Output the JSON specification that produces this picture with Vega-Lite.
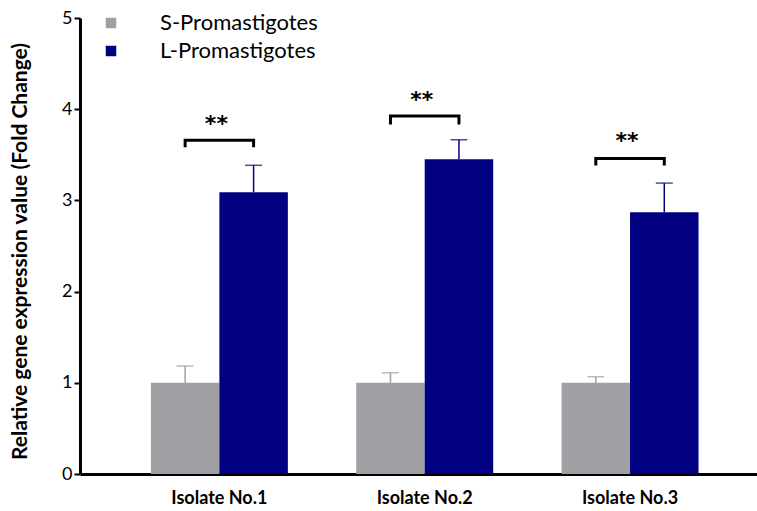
{
  "$schema": "https://vega.github.io/schema/vega-lite/v6.json",
  "width": 677,
  "height": 456,
  "autosize": {"type": "none"},
  "padding": {"left": 80, "top": 18, "right": 0, "bottom": 37},
  "background": "white",
  "config": {"view": {"stroke": null}, "font": "Lato"},
  "datasets": {
    "bars": [
      {"iso": "Isolate No.1", "grp": "S-Promastigotes", "value": 1.0, "err": 1.184},
      {"iso": "Isolate No.1", "grp": "L-Promastigotes", "value": 3.09, "err": 3.385},
      {"iso": "Isolate No.2", "grp": "S-Promastigotes", "value": 1.0, "err": 1.11},
      {"iso": "Isolate No.2", "grp": "L-Promastigotes", "value": 3.45, "err": 3.665},
      {"iso": "Isolate No.3", "grp": "S-Promastigotes", "value": 1.0, "err": 1.067},
      {"iso": "Isolate No.3", "grp": "L-Promastigotes", "value": 2.87, "err": 3.19}
    ],
    "brackets": [
      {"iso": "Isolate No.1", "grp": "S-Promastigotes", "y": 3.6, "ord": 1},
      {"iso": "Isolate No.1", "grp": "S-Promastigotes", "y": 3.66, "ord": 2},
      {"iso": "Isolate No.1", "grp": "L-Promastigotes", "y": 3.66, "ord": 3},
      {"iso": "Isolate No.1", "grp": "L-Promastigotes", "y": 3.6, "ord": 4},
      {"iso": "Isolate No.2", "grp": "S-Promastigotes", "y": 3.85, "ord": 1},
      {"iso": "Isolate No.2", "grp": "S-Promastigotes", "y": 3.925, "ord": 2},
      {"iso": "Isolate No.2", "grp": "L-Promastigotes", "y": 3.925, "ord": 3},
      {"iso": "Isolate No.2", "grp": "L-Promastigotes", "y": 3.85, "ord": 4},
      {"iso": "Isolate No.3", "grp": "S-Promastigotes", "y": 3.4, "ord": 1},
      {"iso": "Isolate No.3", "grp": "S-Promastigotes", "y": 3.46, "ord": 2},
      {"iso": "Isolate No.3", "grp": "L-Promastigotes", "y": 3.46, "ord": 3},
      {"iso": "Isolate No.3", "grp": "L-Promastigotes", "y": 3.4, "ord": 4}
    ],
    "stars": [
      {"iso": "Isolate No.1", "y": 3.88, "label": "**"},
      {"iso": "Isolate No.2", "y": 4.145, "label": "**"},
      {"iso": "Isolate No.3", "y": 3.695, "label": "**"}
    ]
  },
  "layer": [
    {
      "data": {"name": "bars"},
      "mark": {"type": "bar"},
      "encoding": {
        "x": {
          "field": "iso", "type": "nominal", "sort": null,
          "scale": {"paddingInner": 0.333, "paddingOuter": 0.315, "align": 0.548},
          "axis": {"title": null, "labelAngle": 0, "labelFontSize": 18, "labelFontWeight": "bold", "labelColor": "black", "labelPadding": 15, "ticks": false, "domainWidth": 3, "domainColor": "black"}
        },
        "xOffset": {"field": "grp", "type": "nominal", "sort": null, "scale": {"domain": ["S-Promastigotes", "L-Promastigotes"], "paddingInner": 0, "paddingOuter": 0}},
        "y": {
          "field": "value", "type": "quantitative",
          "scale": {"domain": [0, 5], "nice": false},
          "axis": {
            "title": "Relative gene expression value (Fold Change)",
            "values": [0, 1, 2, 3, 4, 5], "format": "d", "grid": false,
            "domainWidth": 3, "domainColor": "black", "tickColor": "black", "tickWidth": 2, "tickSize": 6,
            "labelFontSize": 18, "labelColor": "black", "labelPadding": 2,
            "titleFontSize": 21, "titleFontWeight": "bold", "titleColor": "black",
            "titleX": -60, "titleY": 233, "titleBaseline": "middle", "titleAlign": "center"
          }
        },
        "color": {
          "field": "grp", "type": "nominal",
          "scale": {"domain": ["S-Promastigotes", "L-Promastigotes"], "range": ["#A0A0A4", "#000080"]},
          "legend": {"title": null, "orient": "none", "legendX": 20, "legendY": -6, "symbolType": "square", "symbolSize": 110, "symbolStrokeWidth": 0, "symbolOpacity": 1, "labelFontSize": 22, "labelColor": "black", "labelOffset": 38, "rowPadding": 6}
        }
      }
    },
    {
      "data": {"name": "bars"},
      "mark": {"type": "rule", "strokeWidth": 1.5},
      "encoding": {
        "x": {"field": "iso", "type": "nominal", "sort": null},
        "xOffset": {"field": "grp", "type": "nominal", "sort": null},
        "y": {"field": "value", "type": "quantitative"},
        "y2": {"field": "err"},
        "color": {"field": "grp", "type": "nominal", "legend": null}
      }
    },
    {
      "data": {"name": "bars"},
      "mark": {"type": "tick", "size": 17, "thickness": 1.5},
      "encoding": {
        "x": {"field": "iso", "type": "nominal", "sort": null},
        "xOffset": {"field": "grp", "type": "nominal", "sort": null},
        "y": {"field": "err", "type": "quantitative"},
        "color": {"field": "grp", "type": "nominal", "legend": null}
      }
    },
    {
      "data": {"name": "brackets"},
      "mark": {"type": "line", "color": "black", "strokeWidth": 3, "strokeCap": "square"},
      "encoding": {
        "x": {"field": "iso", "type": "nominal", "sort": null},
        "xOffset": {"field": "grp", "type": "nominal", "sort": null},
        "y": {"field": "y", "type": "quantitative"},
        "detail": {"field": "iso"},
        "order": {"field": "ord", "type": "quantitative"}
      }
    },
    {
      "data": {"name": "stars"},
      "mark": {"type": "text", "font": "DejaVu Sans", "fontSize": 22, "fontWeight": "bold", "color": "black", "baseline": "middle", "dx": -3, "dy": 4},
      "encoding": {
        "x": {"field": "iso", "type": "nominal", "sort": null},
        "y": {"field": "y", "type": "quantitative"},
        "text": {"field": "label"}
      }
    }
  ]
}
